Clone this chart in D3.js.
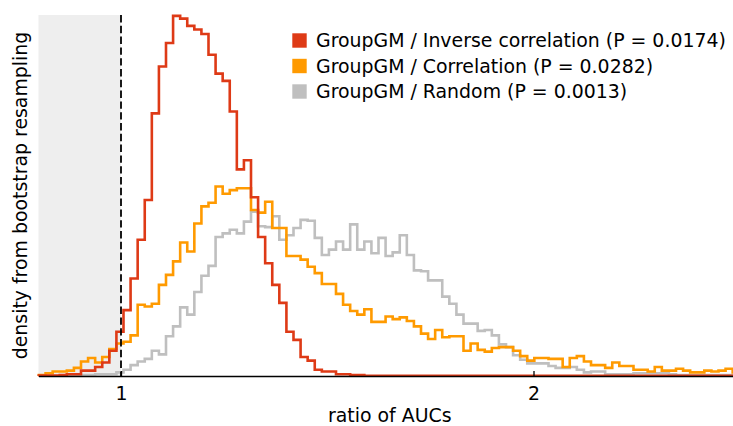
<!DOCTYPE html>
<html>
<head>
<meta charset="utf-8">
<script src="https://cdn.jsdelivr.net/npm/d3@7"></script>
<style>
  html, body { margin: 0; padding: 0; background: #fff; }
  svg { display: block; font-family: "DejaVu Sans", sans-serif; }
</style>
</head>
<body>
<svg id="chart" width="733" height="426"></svg>
<script>
// ---- data ----
const binStart = 0.8;
const binEnd = 2.5;
const binCount = 99;

const seriesNames = [
  "GroupGM / Inverse correlation (P = 0.0174)",
  "GroupGM / Correlation (P = 0.0282)",
  "GroupGM / Random (P = 0.0013)"
];
const seriesColors = ["#de3a16", "#ff9a00", "#bfbfbf"];

const inverseCorrelation = [
  0.005, 0.005, 0.005, 0.01, 0.02, 0.02, 0.06, 0.06, 0.10, 0.15, 0.28, 0.49,
  0.73, 1.08, 1.51, 1.95, 2.91, 3.43, 3.69, 3.99, 3.96, 3.88, 3.84, 3.79,
  3.56, 3.35, 3.27, 2.93, 2.29, 2.39, 1.98, 1.54, 1.25, 1.01, 0.81, 0.49,
  0.40, 0.21, 0.17, 0.07, 0.05, 0.05, 0.02, 0.02, 0.01, 0.01, 0.003, 0.003,
  0.003, 0.003, 0.003, 0.003, 0.003, 0.003, 0.003, 0.003, 0.003, 0.003, 0.003, 0.003,
  0.003, 0.003, 0.003, 0.003, 0.003, 0.003, 0.003, 0.003, 0.003, 0.003, 0.003, 0.003,
  0.003, 0.003, 0.003, 0.003, 0.003, 0.003, 0.003, 0.003, 0.003, 0.003, 0.003, 0.003,
  0.003, 0.003, 0.003, 0.003, 0.003, 0.003, 0.003, 0.003, 0.003, 0.003, 0.003, 0.003,
  0.003, 0.003, 0.003
];

const correlation = [
  0.01, 0.03, 0.05, 0.05, 0.06, 0.09, 0.16, 0.20, 0.15, 0.21, 0.30, 0.36,
  0.38, 0.45, 0.79, 0.77, 0.80, 1.01, 1.12, 1.27, 1.48, 1.38, 1.69, 1.88,
  1.92, 2.10, 2.02, 2.06, 2.08, 2.08, 1.84, 1.81, 1.93, 1.64, 1.64, 1.33,
  1.33, 1.29, 1.21, 1.14, 1.02, 1.02, 0.91, 0.79, 0.72, 0.68, 0.74, 0.60,
  0.60, 0.66, 0.63, 0.65, 0.61, 0.55, 0.47, 0.41, 0.51, 0.43, 0.44, 0.44,
  0.28, 0.36, 0.29, 0.27, 0.31, 0.32, 0.32, 0.28, 0.22, 0.17, 0.20, 0.20,
  0.19, 0.19, 0.10, 0.20, 0.22, 0.16, 0.12, 0.12, 0.09, 0.15, 0.11, 0.11,
  0.07, 0.07, 0.05, 0.10, 0.06, 0.06, 0.08, 0.06, 0.04, 0.04, 0.06, 0.05,
  0.06, 0.08, 0.04
];

const random = [
  0.003, 0.003, 0.003, 0.003, 0.003, 0.005, 0.01, 0.01, 0.02, 0.02, 0.02, 0.04,
  0.07, 0.12, 0.16, 0.19, 0.28, 0.24, 0.44, 0.55, 0.76, 0.68, 0.93, 1.11,
  1.22, 1.54, 1.58, 1.62, 1.58, 1.71, 1.82, 1.66, 1.65, 1.77, 1.51, 1.56,
  1.64, 1.73, 1.72, 1.53, 1.34, 1.40, 1.49, 1.40, 1.68, 1.40, 1.49, 1.36,
  1.53, 1.33, 1.37, 1.56, 1.34, 1.17, 1.16, 1.06, 1.06, 0.88, 0.80, 0.68,
  0.58, 0.58, 0.50, 0.51, 0.45, 0.35, 0.32, 0.23, 0.18, 0.14, 0.14, 0.14,
  0.11, 0.09, 0.09, 0.10, 0.07, 0.04, 0.05, 0.05, 0.02, 0.02, 0.02, 0.02,
  0.03, 0.03, 0.03, 0.03, 0.03, 0.02, 0.01, 0.01, 0.01, 0.01, 0.01, 0.01,
  0.01, 0.01, 0.01
];

const xTicks = [1, 2];
const xLabel = "ratio of AUCs";
const yLabel = "density from bootstrap resampling";
const nullValue = 1;

// ---- layout ----
const svg = d3.select("#chart");
const W = 733, H = 426;
const FONT = "18.9px";
const plot = { left: 38.5, top: 15, right: 739.75, bottom: 376 };

const x = d3.scaleLinear().domain([binStart, binEnd]).range([plot.left, plot.right]);
const y = d3.scaleLinear().domain([0, 4.0]).range([plot.bottom, plot.top]);

const edges = d3.range(binCount + 1).map(i => binStart + i * (binEnd - binStart) / binCount);

svg.append("defs").append("clipPath").attr("id", "clip")
  .append("rect").attr("x", plot.left - 1).attr("y", 0)
  .attr("width", W - plot.left + 1).attr("height", plot.bottom + 1);

const g = svg.append("g").attr("clip-path", "url(#clip)");

// shaded region below null ratio
g.append("rect")
  .attr("x", x(binStart)).attr("y", plot.top)
  .attr("width", x(nullValue) - x(binStart))
  .attr("height", plot.bottom - plot.top)
  .attr("fill", "#eeeeee");

// step histograms
const line = d3.line().x(d => x(d[0])).y(d => y(d[1])).curve(d3.curveStepAfter);
const allSeries = [inverseCorrelation, correlation, random];
const drawOrder = [2, 1, 0];
drawOrder.forEach(si => {
  const vals = allSeries[si];
  const pts = [[edges[0], 0]];
  vals.forEach((v, i) => pts.push([edges[i], v]));
  pts.push([edges[binCount], vals[binCount - 1]]);
  pts.push([edges[binCount], 0]);
  g.append("path")
    .attr("d", line(pts))
    .attr("fill", "none")
    .attr("stroke", seriesColors[si])
    .attr("stroke-width", 2.6)
    .attr("stroke-linejoin", "miter");
});

// dashed null line
g.append("line")
  .attr("x1", x(nullValue)).attr("x2", x(nullValue))
  .attr("y1", plot.top).attr("y2", plot.bottom)
  .attr("stroke", "#000").attr("stroke-width", 1.8)
  .attr("stroke-dasharray", "7.4,3.4");

// x axis
const axis = d3.axisBottom(x).tickValues(xTicks).tickFormat(d3.format("d"))
  .tickSizeInner(-5).tickSizeOuter(0).tickPadding(11);
const ax = svg.append("g").attr("transform", `translate(0,${plot.bottom})`).call(axis);
ax.select(".domain").attr("stroke", "#000").attr("stroke-width", 1.4);
ax.selectAll(".tick line").attr("stroke", "#000").attr("stroke-width", 1.3);
ax.selectAll(".tick text").attr("font-size", FONT).attr("fill", "#000")
  .attr("font-family", "DejaVu Sans, sans-serif");

// axis labels
svg.append("text")
  .attr("x", (x(binStart) + W) / 2 + 4).attr("y", 421.5)
  .attr("text-anchor", "middle").attr("font-size", FONT).attr("fill", "#000")
  .text(xLabel);

svg.append("text")
  .attr("transform", `translate(27,${(plot.top + plot.bottom) / 2}) rotate(-90)`)
  .attr("text-anchor", "middle").attr("font-size", FONT).attr("fill", "#000")
  .text(yLabel);

// legend
const legend = svg.append("g");
seriesNames.forEach((name, i) => {
  const cy = 40.5 + i * 25.5;
  legend.append("rect")
    .attr("x", 292.3).attr("y", cy - 7.2).attr("width", 14.4).attr("height", 14.4)
    .attr("fill", seriesColors[i]);
  legend.append("text")
    .attr("x", 316).attr("y", cy + 6.8)
    .attr("font-size", FONT).attr("fill", "#000")
    .text(name);
});
</script>
</body>
</html>
